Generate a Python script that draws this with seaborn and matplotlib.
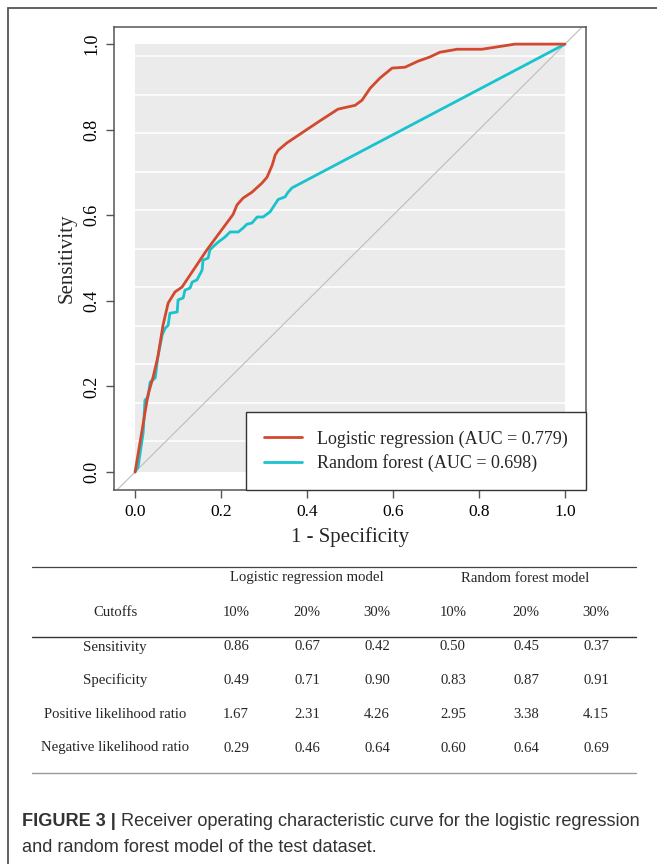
import matplotlib
matplotlib.use('Agg')
import matplotlib.pyplot as plt
from matplotlib.lines import Line2D
from matplotlib.patches import Rectangle
import seaborn as sns
import numpy as np
import pandas as pd

# ROC curves
lr_fpr = [0, 0.019, 0.030, 0.042, 0.053, 0.065, 0.077, 0.093, 0.109, 0.167,
          0.228, 0.237, 0.251, 0.272, 0.295, 0.307, 0.319, 0.326, 0.333, 0.353,
          0.426, 0.472, 0.512, 0.528, 0.547, 0.570, 0.598, 0.628, 0.658, 0.686,
          0.709, 0.749, 0.807, 0.884, 1.0]
lr_tpr = [0, 0.114, 0.180, 0.222, 0.269, 0.343, 0.395, 0.421, 0.432, 0.519,
          0.602, 0.624, 0.640, 0.654, 0.675, 0.689, 0.717, 0.741, 0.752, 0.769,
          0.818, 0.848, 0.857, 0.869, 0.897, 0.921, 0.944, 0.946, 0.960, 0.970,
          0.981, 0.988, 0.988, 1.0, 1.0]

rf_fpr = [0, 0.007, 0.019, 0.023, 0.030, 0.035, 0.047, 0.053, 0.063, 0.070,
          0.077, 0.081, 0.098, 0.100, 0.112, 0.116, 0.128, 0.133, 0.144, 0.156,
          0.158, 0.170, 0.174, 0.181, 0.193, 0.209, 0.221, 0.240, 0.251, 0.260,
          0.272, 0.284, 0.298, 0.314, 0.333, 0.349, 0.356, 0.365, 1.0]
rf_tpr = [0, 0.012, 0.093, 0.168, 0.175, 0.210, 0.220, 0.269, 0.320, 0.336,
          0.343, 0.371, 0.374, 0.402, 0.407, 0.425, 0.430, 0.444, 0.449, 0.472,
          0.495, 0.500, 0.519, 0.526, 0.537, 0.549, 0.561, 0.561, 0.570, 0.579,
          0.582, 0.596, 0.596, 0.608, 0.637, 0.643, 0.654, 0.664, 1.0]

series_labels = ['Logistic regression (AUC = 0.779)', 'Random forest (AUC = 0.698)']
ticks = [0.0, 0.2, 0.4, 0.6, 0.8, 1.0]

# table below the plot
model_names = ['Logistic regression model', 'Random forest model']
cutoffs = ['10%', '20%', '30%', '10%', '20%', '30%']
row_names = ['Sensitivity', 'Specificity', 'Positive likelihood ratio',
             'Negative likelihood ratio']
table_values = [
    ['0.86', '0.67', '0.42', '0.50', '0.45', '0.37'],
    ['0.49', '0.71', '0.90', '0.83', '0.87', '0.91'],
    ['1.67', '2.31', '4.26', '2.95', '3.38', '4.15'],
    ['0.29', '0.46', '0.64', '0.60', '0.64', '0.69'],
]

caption_bold = 'FIGURE 3 |'
caption_rest = ' Receiver operating characteristic curve for the logistic regression'
caption_line2 = 'and random forest model of the test dataset.'

sns.set_theme(style='white')
plt.rcParams['font.family'] = ['Liberation Serif', 'DejaVu Serif']

W, H = 657, 864
fig = plt.figure(figsize=(W / 100, H / 100), dpi=100)


def fx(px):
    return px / W


def fy(py):
    return 1 - py / H


ax = fig.add_axes([fx(114), fy(490), fx(586) - fx(114), fy(27) - fy(490)])

red = '#D2492F'
cyan = '#19C3CD'

# grey panel with white horizontal lines (R style background)
ax.add_patch(Rectangle((0, 0), 1, 1, facecolor='#EBEBEB', edgecolor='none', zorder=0))
for g in np.linspace(0.072, 0.972, 11):
    ax.plot([0, 1], [g, g], color='white', lw=1.1, zorder=1)

ax.axline((0, 0), (1, 1), color='#BDBDBD', lw=0.8, zorder=2)

df_lr = pd.DataFrame({'fpr': lr_fpr, 'tpr': lr_tpr})
df_rf = pd.DataFrame({'fpr': rf_fpr, 'tpr': rf_tpr})
sns.lineplot(data=df_rf, x='fpr', y='tpr', sort=False, estimator=None,
             color=cyan, lw=2, ax=ax, zorder=3)
sns.lineplot(data=df_lr, x='fpr', y='tpr', sort=False, estimator=None,
             color=red, lw=2, ax=ax, zorder=4)

ax.set_xlim(-0.049, 1.049)
ax.set_ylim(-0.042, 1.040)
ax.set_xticks(ticks)
ax.set_yticks(ticks)
ax.set_xticklabels([f'{t:.1f}' for t in ticks], fontsize=12.5)
ax.set_yticklabels([f'{t:.1f}' for t in ticks], fontsize=13, rotation=90, va='center')
ax.tick_params(axis='both', direction='out', length=6, width=1, color='#555555',
               left=True, bottom=True, pad=4, labelcolor='black')
ax.set_xlabel('1 - Specificity', fontsize=15, labelpad=5)
ax.set_ylabel('Sensitivity', fontsize=15, labelpad=5)
for s in ax.spines.values():
    s.set_color('#555555')
    s.set_linewidth(1.1)

handles = [Line2D([], [], color=red, lw=2), Line2D([], [], color=cyan, lw=2)]
leg = ax.legend(handles, series_labels, loc='lower right', bbox_to_anchor=(1, 0),
                borderaxespad=0, frameon=True, fancybox=False, fontsize=13,
                handlelength=2.1, handletextpad=0.85, borderpad=1.0,
                labelspacing=0.35)
leg.get_frame().set_edgecolor('#333333')
leg.get_frame().set_linewidth(1.0)
leg.get_frame().set_alpha(1)

# table
tfs = 10.6
fig.add_artist(Line2D([fx(32), fx(636)], [fy(567), fy(567)], color='#444444', lw=0.9))
fig.add_artist(Line2D([fx(32), fx(636)], [fy(637), fy(637)], color='#333333', lw=1.0))
fig.add_artist(Line2D([fx(32), fx(636)], [fy(773), fy(773)], color='#999999', lw=1.0))

col_x = [236, 307, 377, 453, 526, 596]
fig.text(fx(307), fy(578), model_names[0], ha='center', va='center', fontsize=tfs)
fig.text(fx(525), fy(578), model_names[1], ha='center', va='center', fontsize=tfs)
fig.text(fx(115), fy(612), 'Cutoffs', ha='center', va='center', fontsize=tfs)
for cx, c in zip(col_x, cutoffs):
    fig.text(fx(cx), fy(612), c, ha='center', va='center', fontsize=tfs)
for ry, name, vals in zip([647, 680, 714, 748], row_names, table_values):
    fig.text(fx(115), fy(ry), name, ha='center', va='center', fontsize=tfs)
    for cx, v in zip(col_x, vals):
        fig.text(fx(cx), fy(ry), v, ha='center', va='center', fontsize=tfs)

# caption
cap_font = ['Liberation Sans', 'DejaVu Sans']
cfs = 13.1
t1 = fig.text(fx(22), fy(822), caption_bold, ha='left', va='center', fontsize=cfs,
              fontweight='bold', family=cap_font, color='#333333')
fig.canvas.draw()
bb = t1.get_window_extent()
fig.text(bb.x1 / fig.dpi / fig.get_figwidth(), fy(822), caption_rest, ha='left',
         va='center', fontsize=cfs, family=cap_font, color='#333333')
fig.text(fx(22), fy(847), caption_line2, ha='left', va='center', fontsize=cfs,
         family=cap_font, color='#333333')

# outer frame (left and top edges visible)
fig.add_artist(Rectangle((fx(8), -0.1), 1.2, fy(8) + 0.1, transform=fig.transFigure,
                         fill=False, edgecolor='#555555', lw=1.3))

fig.savefig('out.png', dpi=100)
